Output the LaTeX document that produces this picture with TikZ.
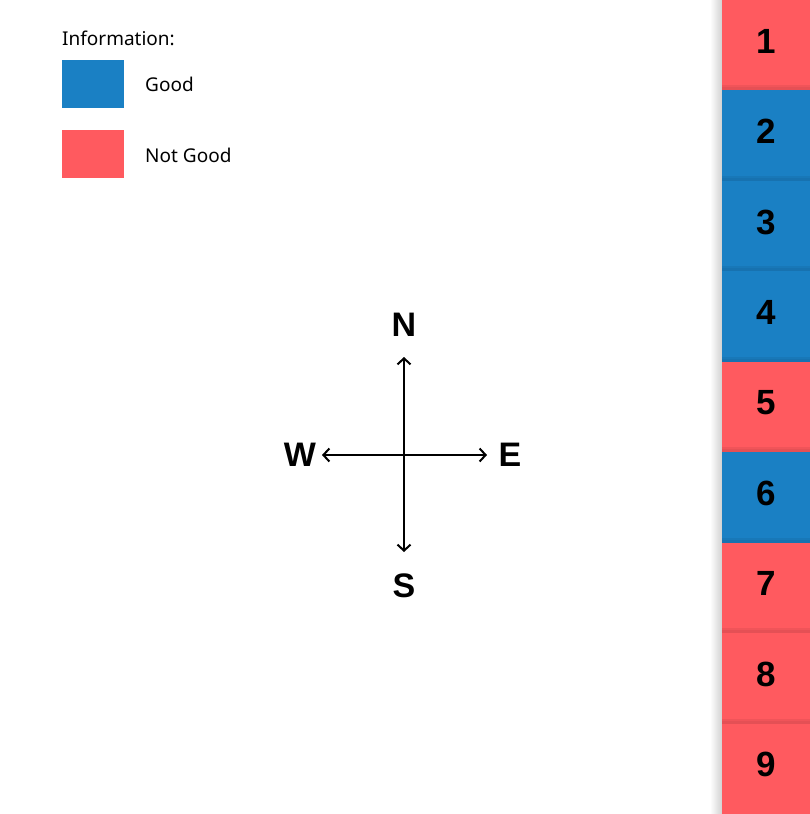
\documentclass[tikz,border=0pt]{standalone}
\usepackage{fontspec}
\setmainfont{Noto Sans}
\newfontfamily\boldface{Liberation Sans}
\usetikzlibrary{arrows.meta}
\definecolor{good}{HTML}{1A80C4}
\definecolor{bad}{HTML}{FF5A5F}
\tikzset{
  legtext/.style={anchor=west, inner sep=0pt, font=\fontsize{19}{22}\selectfont},
  swatch/.style={minimum width=62pt, minimum height=48pt, inner sep=0pt, draw=none},
  compass/.style={inner sep=0pt, font=\boldface\bfseries\fontsize{34}{38}\selectfont},
  compassarrow/.style={line width=2pt, -{Straight Barb[length=6pt,width=13pt,line width=2pt]}},
  numcell/.style={minimum width=88pt, minimum height=90.44pt, inner sep=0pt, draw=none},
  numtext/.style={inner sep=0pt, font=\boldface\bfseries\fontsize{35}{38}\selectfont}
}
\begin{document}
\begin{tikzpicture}[x=1pt,y=-1pt]
\useasboundingbox (0,0) rectangle (810,814);
\fill[white] (0,0) rectangle (810,814);
% legend
\node[legtext] (info) at (62,38) {Information:};
\node[swatch, fill=good] (sgood) at (93,84) {};
\node[swatch, fill=bad] (sbad) at (93,154) {};
\node[legtext] (tgood) at (145,84) {Good};
\node[legtext] (tbad) at (145,155) {Not Good};
% column shadow
\shade[left color=white, right color=black!18] (710,0) rectangle (722,814);
% cells
\foreach \i/\c in {1/bad,2/good,3/good,4/good,5/bad,6/good,7/bad,8/bad,9/bad}{
  \node[numcell, fill=\c] (cell\i) at (766,{(\i-0.5)*90.44}) {};
}
\foreach \i in {1,...,8}{
  \fill[black, opacity=0.10] (722,{\i*90.44-3}) rectangle (810,{\i*90.44});
  \fill[black, opacity=0.06] (722,{\i*90.44-5}) rectangle (810,{\i*90.44-3});
}
\foreach \i in {1,...,9}{
  \node[numtext] (num\i) at (766,{(\i-0.5)*90.44-4}) {\i};
}
% compass
\coordinate (c) at (404,455);
\coordinate (nt) at (404,357);
\coordinate (st) at (404,552);
\coordinate (wt) at (322,455);
\coordinate (et) at (487,455);
\draw[compassarrow] (c) -- (nt);
\draw[compassarrow] (c) -- (st);
\draw[compassarrow] (c) -- (wt);
\draw[compassarrow] (c) -- (et);
\node[compass] (N) at (404,324.5) {N};
\node[compass] (S) at (404,585.5) {S};
\node[compass] (W) at (300,455) {W};
\node[compass] (E) at (510,455) {E};
\end{tikzpicture}
\end{document}
